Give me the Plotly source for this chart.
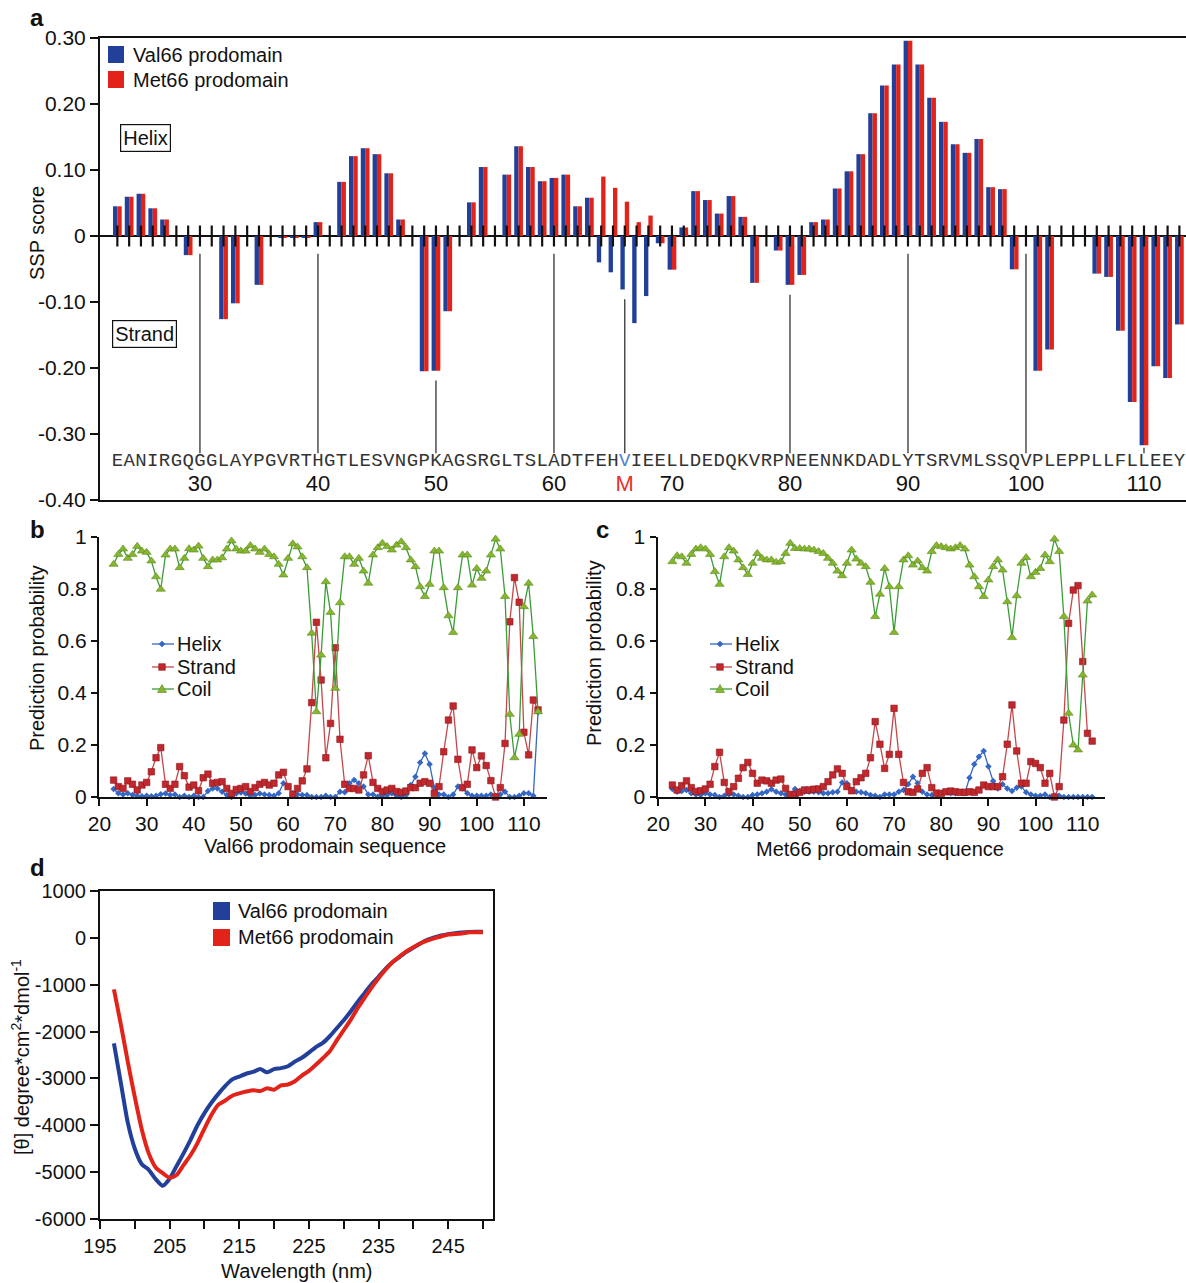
import plotly.graph_objects as go

W, H = 1186, 1283
SANS = "Liberation Sans, Arial, sans-serif"
MONO = "Liberation Mono, Courier New, monospace"


def fx(px):
    return px / W


def fy(py):
    return 1 - py / H


# ---------------- panel a: SSP scores ----------------
sequence = "EANIRGQGGLAYPGVRTHGTLESVNGPKAGSRGLTSLADTFEHVIEELLDEDQKVRPNEENNKDADLYTSRVMLSSQVPLEPPLLFLLEEY"
residues = list(range(23, 114))
ssp_val66 = [
    0.045, 0.0595, 0.064, 0.042, 0.025, 0.0, -0.029, 0.0, 0.0, -0.126,      # 23-32
    -0.102, 0.0, -0.074, 0.0, -0.003, -0.003, -0.003, 0.021, 0.0, 0.082,   # 33-42
    0.121, 0.133, 0.124, 0.095, 0.025, 0.0, -0.205, -0.204, -0.114, 0.0,   # 43-52
    0.051, 0.1045, 0.0, 0.093, 0.136, 0.1045, 0.083, 0.088, 0.093, 0.045,  # 53-62
    0.058, -0.040, -0.055, -0.081, -0.132, -0.091, -0.011, -0.051, 0.013, 0.068,  # 63-72
    0.0545, 0.034, 0.0605, 0.029, -0.071, 0.0, -0.022, -0.074, -0.059, 0.021,     # 73-82
    0.025, 0.072, 0.098, 0.124, 0.186, 0.228, 0.260, 0.296, 0.260, 0.2095,        # 83-92
    0.173, 0.139, 0.126, 0.147, 0.074, 0.071, -0.0505, 0.0, -0.204, -0.172,       # 93-102
    0.0, 0.0, 0.0, -0.057, -0.062, -0.1435, -0.2515, -0.317, -0.1975, -0.215,     # 103-112
    -0.134,                                                                       # 113
]
ssp_met66 = [
    0.045, 0.0595, 0.064, 0.042, 0.025, 0.0, -0.029, 0.0, 0.0, -0.126,
    -0.102, 0.0, -0.074, 0.0, -0.003, -0.003, -0.003, 0.021, 0.0, 0.082,
    0.121, 0.133, 0.124, 0.095, 0.025, 0.0, -0.205, -0.204, -0.114, 0.0,
    0.051, 0.1045, 0.0, 0.093, 0.136, 0.1045, 0.083, 0.088, 0.093, 0.045,
    0.058, 0.090, 0.073, 0.052, 0.021, 0.031, -0.011, -0.051, 0.013, 0.068,
    0.0545, 0.034, 0.0605, 0.029, -0.071, 0.0, -0.022, -0.074, -0.059, 0.021,
    0.025, 0.072, 0.098, 0.124, 0.186, 0.228, 0.260, 0.296, 0.260, 0.2095,
    0.173, 0.139, 0.126, 0.147, 0.074, 0.071, -0.0505, 0.0, -0.204, -0.172,
    0.0, 0.0, 0.0, -0.057, -0.062, -0.1435, -0.2515, -0.317, -0.1975, -0.215,
    -0.134,
]
ssp_ticks = [0.30, 0.20, 0.10, 0.0, -0.10, -0.20, -0.30, -0.40]
ssp_ticktext = ["0.30", "0.20", "0.10", "0", "-0.10", "-0.20", "-0.30", "-0.40"]
position_labels = [30, 40, 50, 60, 70, 80, 90, 100, 110]
guide_residues = [30, 40, 50, 60, 66, 80, 90, 100, 110]
variant_residue = 66

# ---------------- panels b and c: secondary-structure probabilities ----------------
val_pos = list(range(23, 114))
val_coil = [
    0.895, 0.933, 0.954, 0.918, 0.933, 0.964, 0.946, 0.941, 0.908, 0.847,
    0.799, 0.931, 0.954, 0.954, 0.882, 0.918, 0.955, 0.950, 0.965, 0.918,
    0.886, 0.912, 0.912, 0.920, 0.954, 0.985, 0.954, 0.946, 0.946, 0.967,
    0.954, 0.941, 0.954, 0.933, 0.924, 0.895, 0.854, 0.918, 0.974, 0.962,
    0.924, 0.882, 0.630, 0.328, 0.546, 0.828, 0.710, 0.418, 0.747, 0.924,
    0.924, 0.895, 0.918, 0.869, 0.822, 0.931, 0.959, 0.976, 0.963, 0.950,
    0.969, 0.982, 0.959, 0.912, 0.886, 0.809, 0.771, 0.818, 0.946, 0.946,
    0.805, 0.697, 0.633, 0.805, 0.931, 0.931, 0.815, 0.879, 0.841, 0.869,
    0.931, 0.992, 0.954, 0.771, 0.318, 0.151, 0.241, 0.732, 0.822, 0.617,
    0.328,
]
val_strand = [
    0.065, 0.040, 0.033, 0.062, 0.049, 0.027, 0.046, 0.056, 0.097, 0.151,
    0.190, 0.049, 0.033, 0.049, 0.117, 0.082, 0.038, 0.046, 0.024, 0.074,
    0.088, 0.053, 0.056, 0.059, 0.033, 0.014, 0.029, 0.033, 0.040, 0.021,
    0.036, 0.049, 0.056, 0.046, 0.053, 0.085, 0.095, 0.040, 0.010, 0.033,
    0.062, 0.108, 0.363, 0.672, 0.450, 0.151, 0.283, 0.574, 0.222, 0.049,
    0.033, 0.033, 0.027, 0.085, 0.159, 0.056, 0.033, 0.021, 0.027, 0.033,
    0.021, 0.018, 0.023, 0.036, 0.036, 0.053, 0.059, 0.053, 0.014, 0.040,
    0.174, 0.296, 0.350, 0.145, 0.036, 0.049, 0.181, 0.113, 0.158, 0.121,
    0.063, 0.000, 0.036, 0.206, 0.674, 0.844, 0.749, 0.249, 0.162, 0.373,
    0.335,
]
val_helix = [
    0.031, 0.014, 0.010, 0.014, 0.008, 0.005, 0.003, 0.005, 0.003, 0.005,
    0.011, 0.013, 0.008, 0.010, 0.000, 0.005, 0.000, 0.005, 0.000, 0.000,
    0.023, 0.033, 0.033, 0.020, 0.008, 0.000, 0.013, 0.017, 0.013, 0.005,
    0.008, 0.013, 0.010, 0.008, 0.005, 0.014, 0.053, 0.040, 0.014, 0.010,
    0.008, 0.008, 0.000, 0.000, 0.000, 0.005, 0.000, 0.000, 0.020, 0.018,
    0.053, 0.065, 0.053, 0.040, 0.010, 0.010, 0.001, 0.005, 0.008, 0.014,
    0.005, 0.000, 0.008, 0.046, 0.078, 0.133, 0.167, 0.126, 0.036, 0.010,
    0.010, 0.000, 0.010, 0.040, 0.033, 0.014, 0.005, 0.005, 0.005, 0.005,
    0.010, 0.005, 0.010, 0.020, 0.000, 0.000, 0.005, 0.014, 0.014, 0.005,
    0.326,
]

met_pos = list(range(23, 113))
met_coil = [
    0.905, 0.928, 0.924, 0.899, 0.933, 0.954, 0.959, 0.954, 0.933, 0.867,
    0.818, 0.924, 0.959, 0.946, 0.912, 0.882, 0.856, 0.899, 0.937, 0.918,
    0.912, 0.912, 0.903, 0.905, 0.937, 0.976, 0.956, 0.956, 0.954, 0.954,
    0.950, 0.944, 0.937, 0.918, 0.899, 0.869, 0.851, 0.899, 0.950, 0.915,
    0.899, 0.886, 0.826, 0.694, 0.780, 0.879, 0.809, 0.633, 0.809, 0.912,
    0.928, 0.892, 0.908, 0.882, 0.869, 0.944, 0.967, 0.963, 0.959, 0.954,
    0.959, 0.967, 0.954, 0.892, 0.847, 0.809, 0.771, 0.835, 0.886, 0.912,
    0.873, 0.751, 0.613, 0.774, 0.899, 0.921, 0.847, 0.864, 0.879, 0.931,
    0.905, 0.992, 0.944, 0.694, 0.322, 0.200, 0.181, 0.469, 0.754, 0.777,
]
met_strand = [
    0.046, 0.027, 0.044, 0.062, 0.036, 0.021, 0.024, 0.031, 0.049, 0.117,
    0.172, 0.056, 0.021, 0.040, 0.072, 0.113, 0.133, 0.091, 0.053, 0.065,
    0.062, 0.053, 0.065, 0.069, 0.033, 0.010, 0.010, 0.018, 0.027, 0.027,
    0.030, 0.031, 0.040, 0.059, 0.085, 0.108, 0.091, 0.040, 0.024, 0.059,
    0.074, 0.091, 0.151, 0.290, 0.203, 0.110, 0.164, 0.341, 0.164, 0.056,
    0.020, 0.018, 0.031, 0.091, 0.113, 0.036, 0.015, 0.014, 0.020, 0.023,
    0.020, 0.018, 0.018, 0.020, 0.018, 0.027, 0.046, 0.040, 0.040, 0.040,
    0.078, 0.203, 0.354, 0.177, 0.053, 0.053, 0.136, 0.129, 0.113, 0.053,
    0.091, 0.000, 0.040, 0.296, 0.668, 0.796, 0.813, 0.521, 0.245, 0.215,
]
met_helix = [
    0.031, 0.020, 0.023, 0.027, 0.014, 0.010, 0.008, 0.014, 0.010, 0.008,
    0.000, 0.005, 0.010, 0.010, 0.005, 0.000, 0.000, 0.008, 0.010, 0.014,
    0.020, 0.030, 0.020, 0.014, 0.010, 0.008, 0.031, 0.023, 0.020, 0.020,
    0.020, 0.018, 0.014, 0.014, 0.018, 0.020, 0.056, 0.053, 0.027, 0.020,
    0.018, 0.014, 0.008, 0.005, 0.000, 0.010, 0.010, 0.010, 0.020, 0.027,
    0.049, 0.078, 0.053, 0.020, 0.010, 0.008, 0.010, 0.014, 0.020, 0.014,
    0.014, 0.018, 0.014, 0.074, 0.126, 0.155, 0.177, 0.117, 0.062, 0.033,
    0.049, 0.033, 0.023, 0.036, 0.040, 0.018, 0.010, 0.005, 0.005, 0.010,
    0.000, 0.005, 0.005, 0.000, 0.000, 0.000, 0.000, 0.000, 0.000, 0.000,
]
prob_ticks = [0, 0.2, 0.4, 0.6, 0.8, 1]
prob_ticktext = ["0", "0.2", "0.4", "0.6", "0.8", "1"]
seq_axis_ticks = [20, 30, 40, 50, 60, 70, 80, 90, 100, 110]

# ---------------- panel d: far-UV CD spectra ----------------
wavelength = list(range(197, 251))
cd_val66 = [
    -2250, -3100, -3950, -4500, -4830, -4950, -5150, -5290, -5140, -4870,
    -4600, -4310, -4000, -3740, -3520, -3330, -3160, -3020, -2960, -2900,
    -2860, -2800, -2870, -2800, -2780, -2740, -2640, -2560, -2450, -2330,
    -2240, -2100, -1930, -1760, -1570, -1370, -1180, -990, -830, -660,
    -520, -410, -300, -210, -120, -40, 10, 50, 80, 100,
    115, 125, 130, 130,
]
cd_met66 = [
    -1100, -1850, -2650, -3400, -4090, -4600, -4900, -5020, -5120, -5060,
    -4850, -4640, -4380, -4070, -3780, -3560, -3470, -3370, -3320, -3280,
    -3250, -3270, -3210, -3240, -3150, -3130, -3060, -2940, -2840, -2710,
    -2570, -2420, -2190, -1970, -1750, -1500, -1280, -1060, -860, -680,
    -520, -400, -290, -200, -120, -60, -10, 30, 70, 80,
    95, 120, 120, 120,
]
cd_ticks = [1000, 0, -1000, -2000, -3000, -4000, -5000, -6000]
cd_ticktext = ["1000", "0", "-1000", "-2000", "-3000", "-4000", "-5000", "-6000"]
wl_ticks = list(range(195, 251, 5))
wl_ticktext = [str(v) if (v - 195) % 10 == 0 else "" for v in wl_ticks]

# ---------------- styling ----------------
BLUE = "#22409a"
RED = "#e2231a"
HELIX_C = "#3567c4"
STRAND_LINE = "#c4474a"
STRAND_FILL = "#c0282d"
COIL_LINE = "#3a9c35"
COIL_FILL = "#86b52e"
INK = "#111111"

fig = go.Figure()

# panel a bars: Val66 left of each residue, Met66 right of it
fig.add_trace(go.Bar(x=residues, y=ssp_val66, width=0.37, offset=-0.37,
                     marker=dict(color=BLUE, line=dict(width=0)),
                     xaxis="x", yaxis="y", showlegend=False, hoverinfo="skip"))
fig.add_trace(go.Bar(x=residues, y=ssp_met66, width=0.37, offset=0.0,
                     marker=dict(color=RED, line=dict(width=0)),
                     xaxis="x", yaxis="y", showlegend=False, hoverinfo="skip"))
# residue ticks crossing the zero line
fig.add_trace(go.Scatter(x=residues, y=[0] * len(residues), mode="markers",
                         marker=dict(symbol="line-ns", size=15,
                                     line=dict(width=2.2, color=INK)),
                         xaxis="x", yaxis="y", showlegend=False,
                         hoverinfo="skip", cliponaxis=False))
# sequence letters under the bars
seq_colors = ["#4f80d2" if r == variant_residue else "#333333" for r in residues]
fig.add_trace(go.Scatter(x=residues, y=[-0.342] * len(residues), mode="text",
                         text=list(sequence),
                         textfont=dict(family=MONO, size=19, color=seq_colors),
                         xaxis="x", yaxis="y", showlegend=False,
                         hoverinfo="skip", cliponaxis=False))
# residue numbering row
fig.add_trace(go.Scatter(x=position_labels, y=[-0.3785] * len(position_labels),
                         mode="text", text=[str(v) for v in position_labels],
                         textfont=dict(family=SANS, size=22, color=INK),
                         xaxis="x", yaxis="y", showlegend=False,
                         hoverinfo="skip", cliponaxis=False))
fig.add_trace(go.Scatter(x=[variant_residue], y=[-0.3785], mode="text",
                         text=["M"],
                         textfont=dict(family=SANS, size=22, color="#e8322a"),
                         xaxis="x", yaxis="y", showlegend=False,
                         hoverinfo="skip", cliponaxis=False))


def prob_traces(pos, helix, strand, coil, xa, ya):
    fig.add_trace(go.Scatter(x=pos, y=helix, mode="lines+markers",
                             line=dict(color=HELIX_C, width=1.3),
                             marker=dict(symbol="diamond", size=5, color=HELIX_C),
                             xaxis=xa, yaxis=ya, showlegend=False,
                             hoverinfo="skip", cliponaxis=False))
    fig.add_trace(go.Scatter(x=pos, y=strand, mode="lines+markers",
                             line=dict(color=STRAND_LINE, width=1.3),
                             marker=dict(symbol="square", size=6.5, color=STRAND_FILL,
                                         line=dict(color="#8e1a1e", width=0.6)),
                             xaxis=xa, yaxis=ya, showlegend=False,
                             hoverinfo="skip", cliponaxis=False))
    fig.add_trace(go.Scatter(x=pos, y=coil, mode="lines+markers",
                             line=dict(color=COIL_LINE, width=1.3),
                             marker=dict(symbol="triangle-up", size=8, color=COIL_FILL,
                                         line=dict(color="#5d8a1c", width=0.6)),
                             xaxis=xa, yaxis=ya, showlegend=False,
                             hoverinfo="skip", cliponaxis=False))


prob_traces(val_pos, val_helix, val_strand, val_coil, "x2", "y2")
prob_traces(met_pos, met_helix, met_strand, met_coil, "x3", "y3")

fig.add_trace(go.Scatter(x=wavelength, y=cd_val66, mode="lines",
                         line=dict(color=BLUE, width=4, shape="spline", smoothing=0.6),
                         xaxis="x4", yaxis="y4", showlegend=False, hoverinfo="skip"))
fig.add_trace(go.Scatter(x=wavelength, y=cd_met66, mode="lines",
                         line=dict(color=RED, width=4, shape="spline", smoothing=0.6),
                         xaxis="x4", yaxis="y4", showlegend=False, hoverinfo="skip"))

# ---------------- shapes ----------------
shapes = []
for r in guide_residues:
    i = residues.index(r)
    low = min(0.0, ssp_val66[i], ssp_met66[i])
    top = min(-0.012, low) - 0.015
    if top < -0.31:
        top = low - 0.004
    shapes.append(dict(type="line", xref="x", yref="y", x0=r, x1=r, y0=top, y1=-0.329,
                       line=dict(color="#333333", width=1.3)))


def rect(x0, y0, x1, y1, color):
    return dict(type="rect", xref="paper", yref="paper",
                x0=fx(x0), x1=fx(x1), y0=fy(y1), y1=fy(y0),
                fillcolor=color, line=dict(width=0))


def seg(x0, x1, y, color, width):
    return dict(type="line", xref="paper", yref="paper",
                x0=fx(x0), x1=fx(x1), y0=fy(y), y1=fy(y),
                line=dict(color=color, width=width))


def poly(points, color, outline):
    path = "M " + " L ".join(f"{fx(px):.6f},{fy(py):.6f}" for px, py in points) + " Z"
    return dict(type="path", xref="paper", yref="paper", path=path,
                fillcolor=color, line=dict(color=outline, width=0.6))


# legend swatches, panels a and d
shapes += [rect(108, 46, 124, 63, BLUE), rect(108, 71, 124, 88, RED)]
shapes += [rect(213, 902, 230, 920, BLUE), rect(213, 929, 230, 946, RED)]


def prob_legend(x0, ys):
    out = []
    xm = x0 + 10
    out.append(seg(x0, x0 + 22, ys[0], HELIX_C, 1.3))
    out.append(poly([(xm, ys[0] - 3), (xm + 3, ys[0]), (xm, ys[0] + 3), (xm - 3, ys[0])],
                    HELIX_C, HELIX_C))
    out.append(seg(x0, x0 + 22, ys[1], STRAND_LINE, 1.3))
    out.append(poly([(xm - 3.3, ys[1] - 3.3), (xm + 3.3, ys[1] - 3.3),
                     (xm + 3.3, ys[1] + 3.3), (xm - 3.3, ys[1] + 3.3)],
                    STRAND_FILL, "#8e1a1e"))
    out.append(seg(x0, x0 + 22, ys[2], COIL_LINE, 1.3))
    out.append(poly([(xm - 4.5, ys[2] + 3.5), (xm + 4.5, ys[2] + 3.5), (xm, ys[2] - 4.5)],
                    COIL_FILL, "#5d8a1c"))
    return out


legend_rows = [644, 667, 689]
shapes += prob_legend(152, legend_rows)
shapes += prob_legend(710, legend_rows)

# ---------------- annotations ----------------
ann = []


def text(x, y, s, size, color=INK, xanchor="center", angle=0, bold=False, **kw):
    ann.append(dict(x=fx(x), y=fy(y), xref="paper", yref="paper", text=s,
                    showarrow=False, xanchor=xanchor, yanchor="middle",
                    textangle=angle,
                    font=dict(family=SANS, size=size, color=color,
                              weight="bold" if bold else "normal"), **kw))


text(37, 18, "a", 24, bold=True)
text(37, 529, "b", 24, bold=True)
text(602, 529, "c", 24, bold=True)
text(37, 868, "d", 24, bold=True)

text(131, 55, "Val66 prodomain", 20, xanchor="left")
text(131, 80, "Met66 prodomain", 20, xanchor="left")
text(236, 911, "Val66 prodomain", 20, xanchor="left")
text(236, 937, "Met66 prodomain", 20, xanchor="left")

text(145, 138, "Helix", 20, bordercolor=INK, borderwidth=1.2, borderpad=2)
text(144, 334, "Strand", 20, bordercolor=INK, borderwidth=1.2, borderpad=2)

for x0 in (152, 710):
    for lbl, yy in zip(["Helix", "Strand", "Coil"], legend_rows):
        text(x0 + 23, yy, lbl, 20, xanchor="left")

text(37, 233, "SSP score", 20, angle=-90)
text(37, 658, "Prediction probability", 20, angle=-90)
text(594, 653, "Prediction probability", 20, angle=-90)
text(325, 846, "Val66 prodomain sequence", 20)
text(880, 849, "Met66 prodomain sequence", 20)
text(20, 1057, "[θ] degree*cm<sup>2</sup>*dmol<sup>-1</sup>", 20, angle=-90)
text(297, 1271, "Wavelength (nm)", 20)

# ---------------- layout ----------------
axis_line = dict(showline=True, linecolor=INK, linewidth=2, showgrid=False,
                 zeroline=False, automargin=False)
tick_font = dict(family=SANS, size=21, color=INK)
tick_font_d = dict(family=SANS, size=20, color=INK)

fig.update_layout(
    template="none",
    width=W, height=H, autosize=False,
    margin=dict(l=0, r=0, t=0, b=0, pad=0, autoexpand=False),
    paper_bgcolor="white", plot_bgcolor="white",
    barmode="overlay",
    showlegend=False,
    shapes=shapes,
    annotations=ann,
    xaxis=dict(domain=[fx(100), 1.0], range=[21.53, 113.56], mirror=True,
               showticklabels=False, ticks="", **axis_line),
    yaxis=dict(domain=[fy(500), fy(38)], range=[-0.40, 0.30],
               tickvals=ssp_ticks, ticktext=ssp_ticktext, ticks="outside",
               ticklen=8, tickwidth=2, tickcolor=INK, tickfont=tick_font,
               showline=True, linecolor=INK, linewidth=2, showgrid=False,
               zeroline=True, zerolinecolor=INK, zerolinewidth=2, automargin=False),
    xaxis2=dict(domain=[fx(99), fx(547)], range=[19.9, 114.9], anchor="y2",
                tickvals=seq_axis_ticks, ticks="outside", ticklen=7, tickwidth=2,
                tickcolor=INK, tickfont=tick_font, **axis_line),
    yaxis2=dict(domain=[fy(797), fy(537)], range=[0, 1], anchor="x2",
                tickvals=prob_ticks, ticktext=prob_ticktext, ticks="outside",
                ticklen=6, tickwidth=2, tickcolor=INK, tickfont=tick_font, **axis_line),
    xaxis3=dict(domain=[fx(657.5), fx(1105)], range=[19.85, 114.72], anchor="y3",
                tickvals=seq_axis_ticks, ticks="outside", ticklen=7, tickwidth=2,
                tickcolor=INK, tickfont=tick_font, **axis_line),
    yaxis3=dict(domain=[fy(797), fy(537)], range=[0, 1], anchor="x3",
                tickvals=prob_ticks, ticktext=prob_ticktext, ticks="outside",
                ticklen=6, tickwidth=2, tickcolor=INK, tickfont=tick_font, **axis_line),
    xaxis4=dict(domain=[fx(100), fx(492.7)], range=[195, 251.4], anchor="y4",
                tickvals=wl_ticks, ticktext=wl_ticktext, ticks="outside", ticklen=8,
                tickwidth=2, tickcolor=INK, tickfont=tick_font_d, mirror=True, **axis_line),
    yaxis4=dict(domain=[fy(1219), fy(891)], range=[-6000, 1000], anchor="x4",
                tickvals=cd_ticks, ticktext=cd_ticktext, ticks="outside", ticklen=8,
                tickwidth=2, tickcolor=INK, tickfont=tick_font_d, mirror=True, **axis_line),
)

fig.write_html("out.html")
